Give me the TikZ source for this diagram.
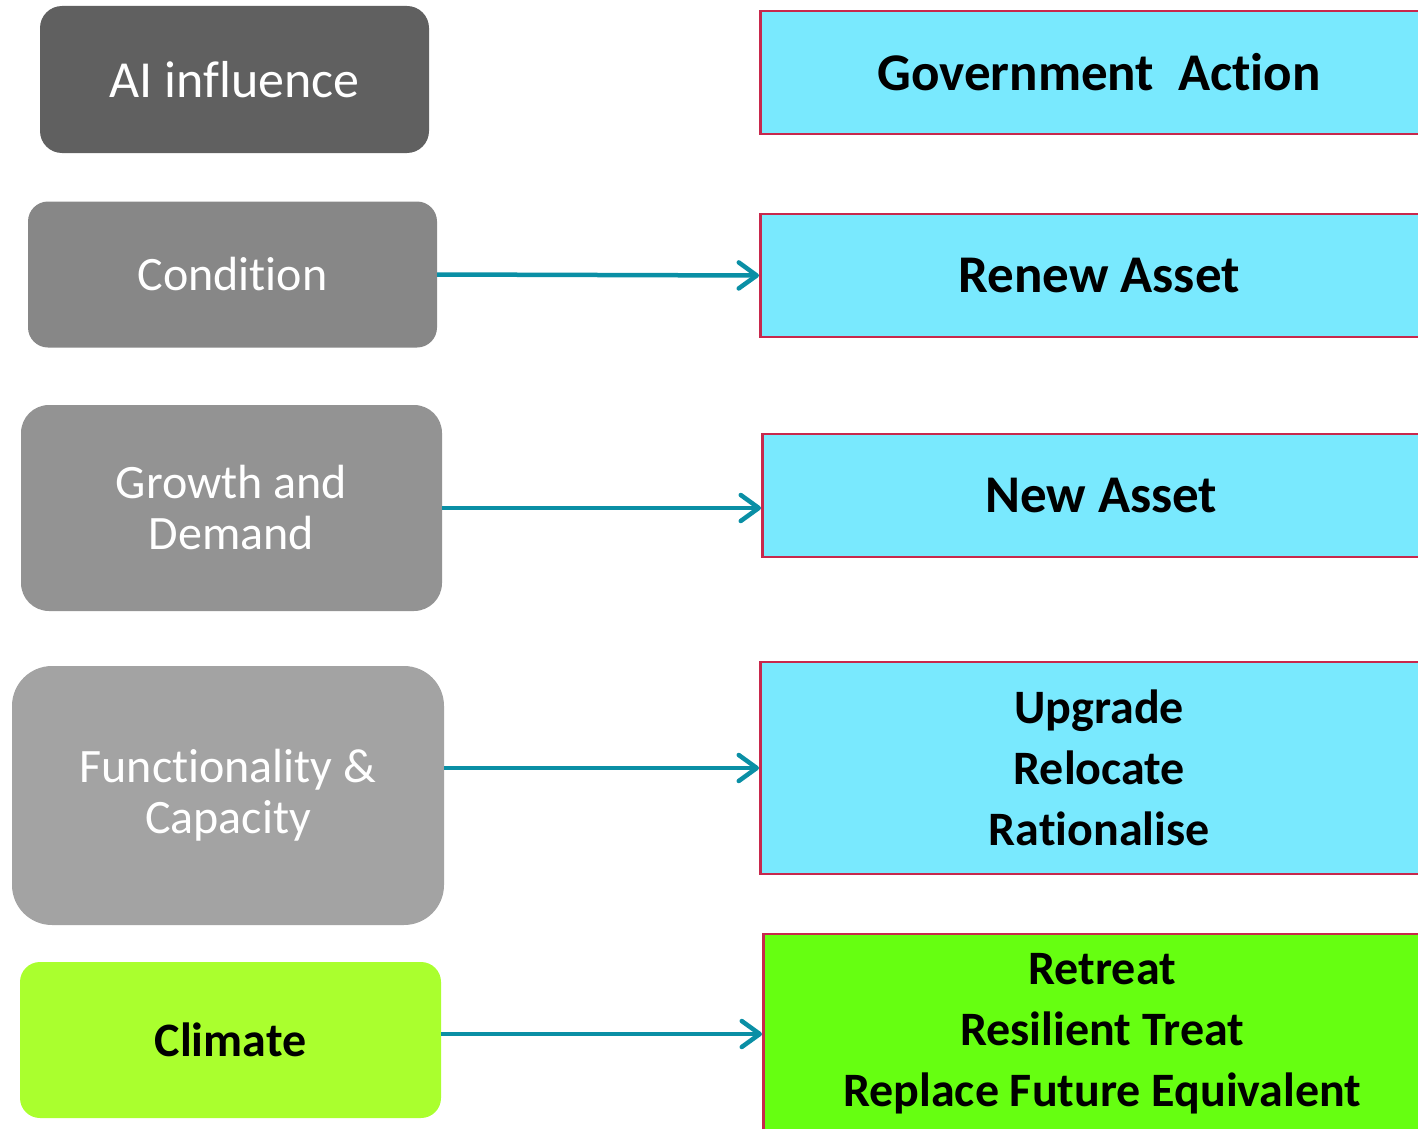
\documentclass[tikz,border=0pt]{standalone}
\usepackage{fontspec}
\setmainfont{Carlito}[Ligatures=NoCommon]
\usetikzlibrary{arrows.meta, positioning}
\definecolor{aigrey}{HTML}{606060}
\definecolor{condgrey}{HTML}{878787}
\definecolor{growthgrey}{HTML}{939393}
\definecolor{funcgrey}{HTML}{A3A3A3}
\definecolor{climatelime}{HTML}{AAFF2E}
\definecolor{actionblue}{HTML}{79E9FE}
\definecolor{actiongreen}{HTML}{66FF11}
\definecolor{actionborder}{HTML}{C8284C}
\definecolor{linkteal}{HTML}{0A8FA5}
\tikzstyle{driver_node} = [rectangle, text centered, align=center, inner sep=0pt, text=white, font=\fontsize{48}{51}\selectfont]
\tikzstyle{action_node} = [rectangle, anchor=west, minimum width=678pt, minimum height=123pt, inner sep=0pt, align=center, draw=actionborder, line width=2.5pt, fill=actionblue, font=\bfseries\fontsize{53}{61}\selectfont]
\tikzstyle{action_list} = [action_node, font=\bfseries\fontsize{48}{61}\selectfont]
\tikzstyle{link_arrow} = [line width=4.5pt, draw=linkteal, -{Straight Barb[length=18pt, width=26pt, round]}]

\begin{document}
\begin{tikzpicture}[x=1pt, y=-1pt]
    \useasboundingbox (0,0) rectangle (1418,1129);

    % drivers on the left
    \node (ai) [driver_node, fill=aigrey, rounded corners=22pt, minimum width=389pt, minimum height=147pt, font=\fontsize{52}{51}\selectfont] at (234.5,79.5) {AI influence};
    \node (cond) [driver_node, fill=condgrey, rounded corners=20pt, minimum width=409pt, minimum height=146pt] at (232.5,274.5) {Condition};
    \node (growth) [driver_node, fill=growthgrey, rounded corners=28pt, minimum width=421pt, minimum height=206pt] at (231.5,508) {Growth and\\Demand};
    \node (func) [driver_node, fill=funcgrey, rounded corners=40pt, minimum width=432pt, minimum height=259pt] at (228,795.5) {Functionality \&\\Capacity};
    \node (climate) [driver_node, fill=climatelime, rounded corners=20pt, minimum width=421pt, minimum height=156pt, text=black, font=\bfseries\fontsize{48}{51}\selectfont] at (230.5,1040) {Climate};

    % actions on the right
    \node (gov) [action_node] at (759,72.5) {Government\ \ Action};
    \node (renew) [action_node] at (759,275.5) {Renew Asset};
    \node (new) [action_node] at (761,495.5) {New Asset};
    \node (upgrade) [action_list, minimum height=212pt] at (759,768) {Upgrade\\Relocate\\Rationalise};
    \node (retreat) [action_list, fill=actiongreen, minimum height=200pt] at (762,1034) {Retreat\\Resilient Treat\\Replace Future Equivalent};

    \draw [link_arrow] (cond.east) -- (renew.west);
    \draw [link_arrow] (growth.east) -- (growth.east -| new.west);
    \draw [link_arrow] (func.east |- upgrade.west) -- (upgrade.west);
    \draw [link_arrow] (climate.east |- retreat.west) -- (retreat.west);
\end{tikzpicture}
\end{document}
